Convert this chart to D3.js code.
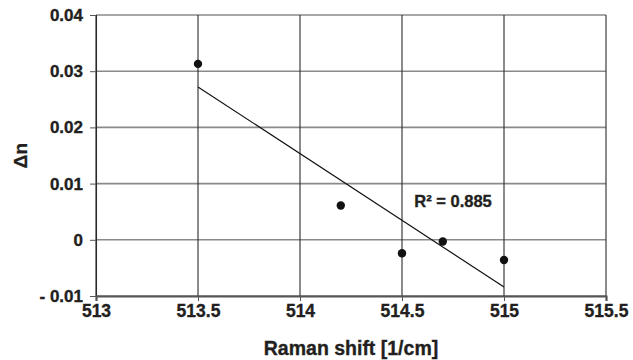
<!DOCTYPE html>
<html>
<head>
<meta charset="utf-8">
<script src="https://cdn.jsdelivr.net/npm/d3@7"></script>
<style>
  body { margin: 0; background: #fff; }
  svg text { font-family: "Liberation Sans", Arial, sans-serif; font-weight: bold; fill: #231f20; stroke: #231f20; stroke-width: 0.35px; }
</style>
</head>
<body>
<div id="chart"></div>
<script>
//data
var ramanShift = [513.5, 514.2, 514.5, 514.7, 515.0];
var deltaN = [0.0313, 0.0061, -0.0024, -0.0003, -0.0036];

//linear trendline end points
var trendX = [513.5, 515.0];
var trendY = [0.0272, -0.0084];
var rSquared = "R² = 0.885";

var xTicks = [513, 513.5, 514, 514.5, 515, 515.5];
var yTicks = [-0.01, 0, 0.01, 0.02, 0.03, 0.04];

//svg dimensions
var svgWidth = 633;
var svgHeight = 360;

var margin = { top: 15, right: 27, bottom: 64, left: 96 };
var width = svgWidth - margin.left - margin.right;
var height = svgHeight - margin.top - margin.bottom;

var svg = d3.select("#chart")
    .append("svg")
    .attr("width", svgWidth)
    .attr("height", svgHeight);

var chartGroup = svg.append("g")
    .attr("transform", `translate(${margin.left}, ${margin.top})`);

//scales
var xScale = d3.scaleLinear().domain([513, 515.5]).range([0, width]);
var yScale = d3.scaleLinear().domain([-0.01, 0.04]).range([height, 0]);

//horizontal grid
chartGroup.append("g")
    .selectAll("line")
    .data(yTicks)
    .enter()
    .append("line")
    .attr("x1", 0)
    .attr("x2", width)
    .attr("y1", d => yScale(d))
    .attr("y2", d => yScale(d))
    .attr("stroke", "#8a8a8a")
    .attr("stroke-width", 1.6);

//vertical grid
chartGroup.append("g")
    .selectAll("line")
    .data(xTicks)
    .enter()
    .append("line")
    .attr("x1", d => xScale(d))
    .attr("x2", d => xScale(d))
    .attr("y1", 0)
    .attr("y2", height)
    .attr("stroke", "#2a2a2a")
    .attr("stroke-width", 1.1);

//y axis
var leftAxis = d3.axisLeft(yScale)
    .tickValues(yTicks)
    .tickSize(6)
    .tickPadding(7)
    .tickFormat(d => d < 0 ? "- " + d3.format(".2f")(-d) : (d === 0 ? "0" : d3.format(".2f")(d)));

var yAxis = chartGroup.append("g").call(leftAxis);
yAxis.select(".domain").attr("stroke", "#2a2a2a").attr("stroke-width", 1.1);
yAxis.selectAll(".tick line").attr("stroke", "#555");
yAxis.selectAll("text")
    .style("font-size", "17px")
    .style("font-weight", "bold")
    .style("font-family", "'Liberation Sans', Arial, sans-serif");

//x axis
var bottomAxis = d3.axisBottom(xScale)
    .tickValues(xTicks)
    .tickSize(5)
    .tickPadding(4)
    .tickFormat(d3.format("~f"));

var xAxis = chartGroup.append("g")
    .attr("transform", `translate(0, ${height})`)
    .call(bottomAxis);
xAxis.select(".domain").attr("stroke", "#555").attr("stroke-width", 2.2);
xAxis.selectAll(".tick line").attr("stroke", "#555");
xAxis.selectAll("text")
    .style("font-size", "17.5px")
    .style("font-weight", "bold")
    .style("font-family", "'Liberation Sans', Arial, sans-serif");

//trendline
chartGroup.append("line")
    .attr("x1", xScale(trendX[0]))
    .attr("y1", yScale(trendY[0]))
    .attr("x2", xScale(trendX[1]))
    .attr("y2", yScale(trendY[1]))
    .attr("stroke", "#111")
    .attr("stroke-width", 1.2);

//points
chartGroup.selectAll("circle")
    .data(ramanShift)
    .enter()
    .append("circle")
    .attr("cx", d => xScale(d))
    .attr("cy", (d, i) => yScale(deltaN[i]))
    .attr("r", 4.2)
    .attr("fill", "#111");

//R² label
chartGroup.append("text")
    .attr("x", xScale(514.56))
    .attr("y", yScale(0.0059))
    .style("font-size", "16.5px")
    .text(rSquared);

//axis titles
svg.append("text")
    .attr("x", margin.left + width / 2)
    .attr("y", 355)
    .attr("text-anchor", "middle")
    .style("font-size", "19.5px")
    .text("Raman shift [1/cm]");

svg.append("text")
    .attr("transform", `translate(27, ${margin.top + height / 2}) rotate(-90)`)
    .attr("text-anchor", "middle")
    .style("font-size", "19px")
    .text("Δn");
</script>
</body>
</html>
